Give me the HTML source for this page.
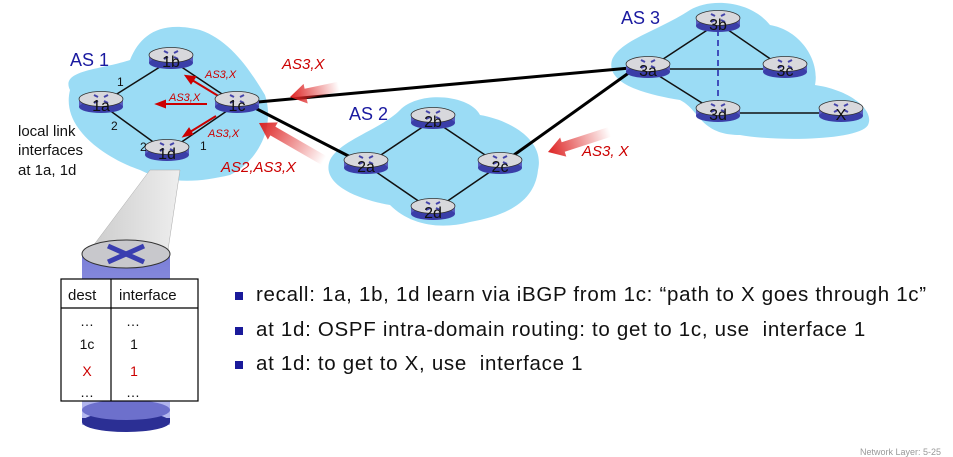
<!DOCTYPE html>
<html><head><meta charset="utf-8"><style>
body{margin:0;background:#fff;width:953px;height:457px;overflow:hidden;font-family:"Liberation Sans",sans-serif}
svg{position:absolute;left:0;top:0}
.b{position:absolute;left:256px;font-size:20.5px;letter-spacing:0.7px;color:#111;white-space:nowrap}
.sq{position:absolute;left:235px;width:8px;height:8px;background:#1a1a9a}
</style></head><body>
<svg width="953" height="457" viewBox="0 0 953 457">
<defs>
<linearGradient id="ar" x1="0" x2="1"><stop offset="0" stop-color="#d22"/><stop offset="1" stop-color="#d22" stop-opacity="0"/></linearGradient>
<linearGradient id="cone" x1="0" x2="1"><stop offset="0" stop-color="#ccc"/><stop offset="1" stop-color="#eee"/></linearGradient>
<linearGradient id="cyl" x1="0" y1="0" x2="0" y2="1"><stop offset="0" stop-color="#7b7fd8"/><stop offset="1" stop-color="#b8bbf0"/></linearGradient>
<g id="r"><rect x="-22" y="-6" width="44" height="9" fill="#5a5ec0"/><ellipse cx="0" cy="3" rx="22" ry="6" fill="#3a3ea8"/><ellipse cx="0" cy="-5" rx="22" ry="7.5" fill="#d8d8dc" stroke="#333" stroke-width="0.8"/><path d="M-7,-9 l4,2 M7,-9 l-4,2 M-7,-1 l4,-2 M7,-1 l-4,-2" stroke="#44a" stroke-width="2"/></g>
</defs>
<path d="M70,90 C60,70 100,70 130,60 C140,35 160,20 200,30 C230,40 250,70 265,95 C275,125 260,160 230,175 C200,182 170,185 140,170 C110,160 60,130 70,90Z" fill="#9bdcf5"/>
<path d="M330,160 C340,140 380,130 400,110 C420,90 470,95 480,115 C510,120 545,140 538,170 C535,200 510,215 470,222 C440,230 410,225 390,205 C360,200 320,185 330,160Z" fill="#9bdcf5"/>
<path d="M612,60 C620,40 660,30 690,10 C710,-2 750,0 770,25 C800,30 820,60 815,85 C850,90 875,110 868,125 C860,140 780,142 740,135 C700,135 700,110 680,100 C650,95 605,85 612,60Z" fill="#9bdcf5"/>
<path d="M150,170 L180,170 L168,250 L90,250Z" fill="url(#cone)" stroke="#aaa" stroke-width="0.5"/>
<rect x="82" y="255" width="88" height="170" fill="url(#cyl)"/>
<ellipse cx="126" cy="422" rx="44" ry="10" fill="#2b2f94"/>
<rect x="82" y="418" width="88" height="4" fill="#2b2f94"/>
<ellipse cx="126" cy="410" rx="44" ry="10" fill="#6d70cc"/>
<ellipse cx="126" cy="254" rx="44" ry="14" fill="#c8c8cc" stroke="#333"/>
<path d="M108,246 L144,262 M144,246 L108,262" stroke="#3a3eb0" stroke-width="5"/>
<g stroke="#111" stroke-width="1.5">
<line x1="101" y1="104" x2="171" y2="60"/><line x1="101" y1="104" x2="167" y2="152"/>
<line x1="237" y1="104" x2="171" y2="60"/><line x1="237" y1="104" x2="167" y2="152"/>
<line x1="366" y1="165" x2="433" y2="120"/><line x1="366" y1="165" x2="433" y2="211"/>
<line x1="500" y1="165" x2="433" y2="120"/><line x1="500" y1="165" x2="433" y2="211"/>
<line x1="648" y1="69" x2="718" y2="23"/><line x1="648" y1="69" x2="785" y2="69"/>
<line x1="648" y1="69" x2="718" y2="113"/><line x1="718" y1="23" x2="785" y2="69"/>
<line x1="718" y1="113" x2="841" y2="113"/>
</g>
<line x1="718" y1="30" x2="718" y2="106" stroke="#22a" stroke-width="1.5" stroke-dasharray="6,4"/>
<g stroke="#000" stroke-width="3"><line x1="258" y1="102" x2="630" y2="68"/><line x1="255" y1="108" x2="366" y2="165"/><line x1="500" y1="165" x2="630" y2="72"/></g>
<g stroke="#c00" stroke-width="2" fill="#c00">
<line x1="220" y1="97" x2="192" y2="80"/><path d="M186,76 l9,1 -4,6z"/>
<line x1="207" y1="104" x2="164" y2="104"/><path d="M157,104 l8,-3 0,6z"/>
<line x1="216" y1="116" x2="190" y2="132"/><path d="M184,136 l5,-7 3,5z"/>
</g>
<g transform="translate(290,97) rotate(-12)"><path d="M0,0 L16,-10 L16,-5 L50,-5 L50,5 L16,5 L16,10Z" fill="url(#ar)"/></g>
<g transform="translate(259,123) rotate(30)"><path d="M0,0 L16,-10 L16,-5 L75,-5 L75,5 L16,5 L16,10Z" fill="url(#ar)"/></g>
<g transform="translate(548,152) rotate(-18)"><path d="M0,0 L16,-10 L16,-5 L65,-5 L65,5 L16,5 L16,10Z" fill="url(#ar)"/></g>
<g font-size="16" text-anchor="middle" fill="#111">
<use href="#r" x="171" y="60"/><text x="171" y="67">1b</text>
<use href="#r" x="101" y="104"/><text x="101" y="111">1a</text>
<use href="#r" x="237" y="104"/><text x="237" y="111">1c</text>
<use href="#r" x="167" y="152"/><text x="167" y="159">1d</text>
<use href="#r" x="366" y="165"/><text x="366" y="172">2a</text>
<use href="#r" x="433" y="120"/><text x="433" y="127">2b</text>
<use href="#r" x="500" y="165"/><text x="500" y="172">2c</text>
<use href="#r" x="433" y="211"/><text x="433" y="218">2d</text>
<use href="#r" x="648" y="69"/><text x="648" y="76">3a</text>
<use href="#r" x="718" y="23"/><text x="718" y="30">3b</text>
<use href="#r" x="785" y="69"/><text x="785" y="76">3c</text>
<use href="#r" x="718" y="113"/><text x="718" y="120">3d</text>
<use href="#r" x="841" y="113"/><text x="841" y="120">X</text>
</g>
<g font-size="12" fill="#111"><text x="117" y="86">1</text><text x="111" y="130">2</text><text x="140" y="151">2</text><text x="200" y="150">1</text></g>
<g fill="#1a1aa0" font-size="18"><text x="70" y="66">AS 1</text><text x="349" y="120">AS 2</text><text x="621" y="24">AS 3</text></g>
<g fill="#c00" font-style="italic"><g font-size="11"><text x="205" y="78">AS3,X</text><text x="169" y="101">AS3,X</text><text x="208" y="137">AS3,X</text></g>
<g font-size="15"><text x="282" y="69">AS3,X</text><text x="221" y="172">AS2,AS3,X</text><text x="582" y="156">AS3, X</text></g></g>
<g font-size="15" fill="#111"><text x="18" y="136">local link</text><text x="18" y="155">interfaces</text><text x="18" y="175">at 1a, 1d</text></g>
<rect x="61" y="279" width="137" height="122" fill="#fff" stroke="#000" stroke-width="1.2"/>
<line x1="61" y1="308" x2="198" y2="308" stroke="#000" stroke-width="1.2"/>
<line x1="111" y1="279" x2="111" y2="401" stroke="#000" stroke-width="1.2"/>
<g font-size="15" fill="#111"><text x="68" y="300">dest</text><text x="119" y="300">interface</text></g>
<g font-size="14" fill="#111" text-anchor="middle"><text x="87" y="326">…</text><text x="133" y="326">…</text><text x="87" y="349">1c</text><text x="134" y="349">1</text><text x="87" y="397">…</text><text x="133" y="397">…</text></g>
<g font-size="14" fill="#c00" text-anchor="middle"><text x="87" y="376">X</text><text x="134" y="376">1</text></g>
<text x="941" y="455" font-size="9" fill="#999" text-anchor="end">Network Layer: 5-25</text>
</svg>
<div class="sq" style="top:292px"></div><div class="b" style="top:283px">recall: 1a, 1b, 1d learn via iBGP from 1c: “path to X goes through 1c”</div>
<div class="sq" style="top:327px"></div><div class="b" style="top:318px">at 1d: OSPF intra-domain routing: to get to 1c, use &nbsp;interface 1</div>
<div class="sq" style="top:361px"></div><div class="b" style="top:352px">at 1d: to get to X, use &nbsp;interface 1</div>
</body></html>
